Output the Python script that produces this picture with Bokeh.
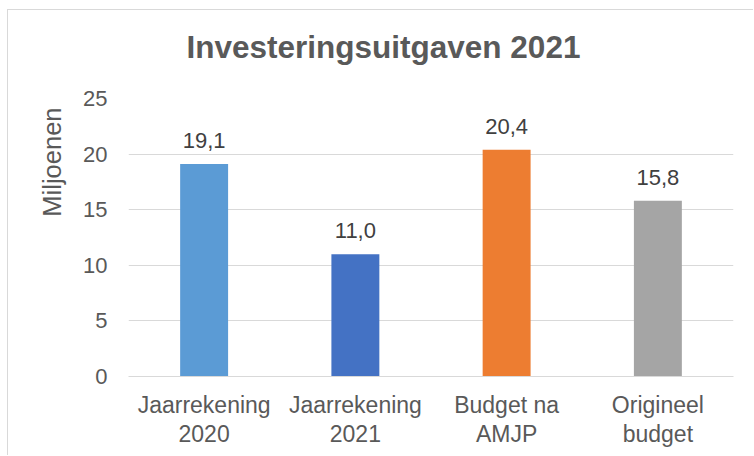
from bokeh.plotting import figure
from bokeh.models import ColumnDataSource, Range1d, FactorRange, LabelSet, Title, FixedTicker
from bokeh.core.properties import value
from bokeh.embed import file_html
from bokeh.resources import INLINE

categories = ["Jaarrekening\n2020", "Jaarrekening\n2021", "Budget na\nAMJP", "Origineel\nbudget"]
values = [19.1, 11.0, 20.4, 15.8]
labels = ["19,1", "11,0", "20,4", "15,8"]
colors = ["#5B9BD5", "#4472C4", "#ED7D31", "#A5A5A5"]
y_ticks = [0, 5, 10, 15, 20, 25]

FONT = "Liberation Sans"
TXT = "#595959"

src = ColumnDataSource(dict(cat=categories, val=values, lab=labels, col=colors))

p = figure(
    width=746, height=446,
    x_range=FactorRange(*categories),
    y_range=Range1d(0, 25),
    output_backend="svg", toolbar_location=None,
    min_border_left=0, min_border_right=21,
    min_border_top=0, min_border_bottom=80,
)
p.title_location = None
p.styles = {"margin-left": "7px", "margin-top": "9px",
            "border-top": "1px solid #d9d9d9", "border-left": "1px solid #d9d9d9"}
p.outline_line_color = None

p.vbar(x="cat", top="val", width=0.317, color="col", source=src, line_color=None)

p.xgrid.grid_line_color = None
p.ygrid.grid_line_color = "#d9d9d9"
p.ygrid.grid_line_width = 1
p.yaxis.ticker = FixedTicker(ticks=y_ticks)

p.yaxis.axis_line_color = None
p.yaxis.major_tick_line_color = None
p.yaxis.minor_tick_line_color = None
p.yaxis.major_tick_out = 0
p.yaxis.major_label_standoff = 21
p.yaxis.major_label_text_font = FONT
p.yaxis.major_label_text_font_size = "22px"
p.yaxis.major_label_text_color = TXT

p.xaxis.axis_line_color = "#d9d9d9"
p.xaxis.axis_line_width = 1
p.xaxis.major_tick_line_color = None
p.xaxis.major_tick_out = 0
p.xaxis.major_label_standoff = 15
p.xaxis.major_label_text_font = FONT
p.xaxis.major_label_text_font_size = "23px"
p.xaxis.major_label_text_color = TXT
p.xaxis.major_label_text_line_height = 1.15

p.add_layout(LabelSet(x="cat", y="val", text="lab", source=src,
                      text_align="center", text_baseline="alphabetic", y_offset=16,
                      text_font=value(FONT), text_font_size="22px", text_color="#404040"))

# blank spacer between frame and chart title
p.add_layout(Title(text=" ", text_font=FONT, text_font_size="8px", text_color="white",
                   standoff=6), "above")
p.add_layout(Title(text="Investeringsuitgaven 2021", align="left", offset=58, standoff=33,
                   text_font=FONT, text_font_size="31.5px", text_font_style="bold",
                   text_color=TXT), "above")

p.add_layout(Title(text="Miljoenen", align="right", offset=9, standoff=30,
                   text_font=FONT, text_font_size="25.5px", text_font_style="normal",
                   text_color=TXT), "left")
# blank outer spacer on the left
p.add_layout(Title(text=" ", text_font=FONT, text_font_size="8px", text_color="white",
                   standoff=1), "left")

open("out.html", "w").write(file_html(p, INLINE))
